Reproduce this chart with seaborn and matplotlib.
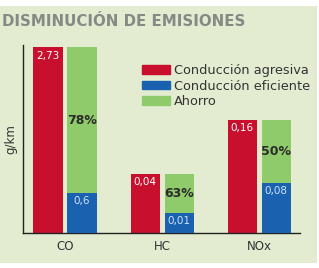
import numpy as np
import pandas as pd
import seaborn as sns
import matplotlib.pyplot as plt
from matplotlib.patches import Patch, Rectangle

# datos (alturas, escala relativa por contaminante)
categorias = ["CO", "HC", "NOx"]
agresiva_txt = ["2,73", "0,04", "0,16"]
eficiente_txt = ["0,6", "0,01", "0,08"]
ahorro_txt = ["78%", "63%", "50%"]
altura_agresiva = [1.0, 0.317, 0.608]
altura_eficiente = [0.215, 0.108, 0.269]

ROJO = "#c8102e"
AZUL = "#1a62b0"
VERDE = "#8fcb6a"
FONDO = "#e3ecd1"

df = pd.DataFrame({
    "cat": categorias * 2,
    "serie": ["agresiva"] * 3 + ["ahorro"] * 3,
    "valor": altura_agresiva + altura_agresiva,
})

sns.set_style("white")
plt.rcParams["font.family"] = ["DejaVu Sans"]

fig = plt.figure(figsize=(3.19, 2.68), dpi=100, facecolor="white")
fig.patches.append(Rectangle((0, 0.02), 0.993, 0.958, transform=fig.transFigure,
                             facecolor=FONDO, edgecolor="none", zorder=-10))
W, H = 319, 268
ax = fig.add_axes([23 / W, 1 - 233 / H, 277 / W, (233 - 45) / H])
ax.set_facecolor("none")

sns.barplot(data=df, x="cat", y="valor", hue="serie", order=categorias,
            hue_order=["agresiva", "ahorro"], palette=[ROJO, VERDE],
            width=0.7, gap=0.14, saturation=1, legend=False, linewidth=0,
            ax=ax)

rojas = ax.patches[:3]
verdes = ax.patches[3:6]
xs = [p.get_x() + p.get_width() / 2 for p in verdes]
wb = verdes[0].get_width()
ax.bar(xs, altura_eficiente, width=wb, color=AZUL, linewidth=0, zorder=3)

for p, t in zip(rojas, agresiva_txt):
    ax.text(p.get_x() + p.get_width() / 2, p.get_height() - 0.045, t,
            ha="center", va="center", color="white", fontsize=7.5)
for x, h, t in zip(xs, altura_eficiente, eficiente_txt):
    ax.text(x, h - 0.045, t, ha="center", va="center", color="#cfe2fa",
            fontsize=7.5, zorder=4)
for x, h, htot, t in zip(xs, altura_eficiente, altura_agresiva, ahorro_txt):
    ax.text(x, (h + htot) / 2, t, ha="center", va="center", color="#2b2b2b",
            fontsize=9, fontweight="bold")

ax.set_xlim(-0.433, 2.42)
ax.set_ylim(0, 1.012)
ax.set_yticks([])
ax.set_xlabel("")
ax.set_ylabel("g/km", fontsize=8.5, color="#333333", labelpad=4)
ax.tick_params(axis="x", length=0, labelsize=8.5, labelcolor="#333333", pad=5)
for s in ["top", "right"]:
    ax.spines[s].set_visible(False)
for s in ["left", "bottom"]:
    ax.spines[s].set_color("#222222")
    ax.spines[s].set_linewidth(1)

handles = [Patch(color=ROJO), Patch(color=AZUL), Patch(color=VERDE)]
fig.legend(handles, ["Conducción agresiva", "Conducción eficiente", "Ahorro"],
           loc="upper left", bbox_to_anchor=(142 / W, 1 - 64 / H),
           frameon=False, fontsize=9.3, handlelength=2.2, handleheight=0.65,
           handletextpad=0.3, labelspacing=0.2, borderpad=0, borderaxespad=0,
           labelcolor="#333333")

fig.text(2 / W, 1 - 21 / H, "DISMINUCIÓN DE EMISIONES", ha="left", va="center",
         fontsize=10.8, fontweight="bold", color="#858a85")

fig.savefig("out.png", dpi=100, facecolor="white")
